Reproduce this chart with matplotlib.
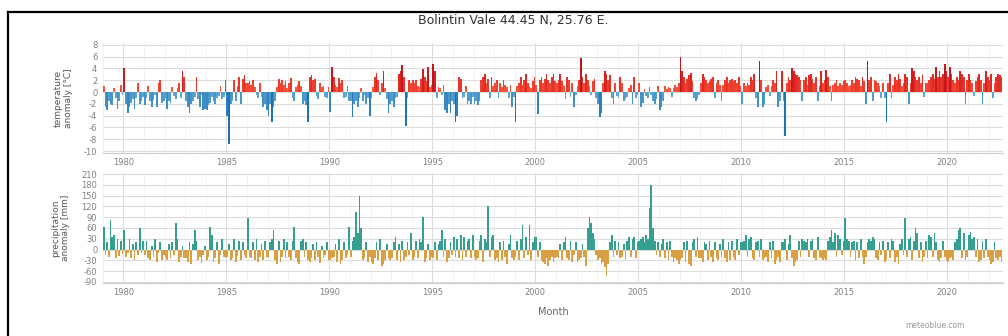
import numpy as np
import matplotlib
matplotlib.use("Agg")
import matplotlib.pyplot as plt
from matplotlib.lines import Line2D

plt.rcParams["font.family"] = ["DejaVu Sans"]
plt.rcParams["axes.unicode_minus"] = False

TITLE = "Bolintin Vale 44.45 N, 25.76 E."
START_YEAR = 1979

# monthly temperature anomaly [°C], one row per year (1979 .. 2022, last year to Aug)
temp_rows = [
    [1.0, -2.5, -3.0, -1.5, -2.0, -2.2, 0.6, -1.0, -2.8, -1.5, 1.2, -0.5],      # 1979
    [4.0, -2.0, -3.5, -2.5, -1.8, -1.2, -2.8, -1.0, 1.5, -2.0, -1.5, -0.8],     # 1980
    [-2.2, -1.0, 1.0, -1.5, -2.6, -1.3, -0.5, -2.5, 1.6, 2.0, -1.8, -1.5],
    [-1.0, -2.8, -1.5, -1.8, 0.8, -0.7, -1.2, 0.6, 1.5, -1.0, 3.6, 2.5],
    [-1.5, -2.5, -3.5, -2.0, -1.5, -0.8, 2.5, -1.2, -2.5, -0.5, -3.0, -2.8],
    [-3.0, -2.2, -1.8, -0.8, -1.5, -2.0, -1.0, -0.6, 1.0, -1.2, -0.8, 2.0],
    [-4.0, -8.8, -2.0, -1.5, 2.0, -1.5, 1.0, 2.5, -2.0, 2.2, 2.8, 1.5],         # 1985
    [1.5, 1.8, 1.2, 2.0, 0.8, -0.5, -1.0, 1.5, -0.8, -2.5, -2.0, -3.0],
    [-4.0, -2.0, -5.0, -2.5, -1.5, 0.8, 2.2, 1.5, 2.0, 1.2, 1.8, 0.6],
    [1.5, 2.3, -1.0, -1.5, 0.8, 1.2, 1.8, 1.0, -2.0, -1.5, -2.2, -5.0],
    [2.5, 2.8, 2.0, 2.2, -0.6, -1.2, 1.5, 0.8, 1.0, -0.8, -1.0, 0.8],
    [-3.4, 4.3, 2.5, 1.2, 0.8, 2.3, 1.5, 2.0, -1.0, -0.8, 1.0, -1.5],          # 1990
    [-1.5, -4.3, -2.0, -1.5, -2.5, -1.0, 0.6, -1.5, -0.5, -2.0, -1.0, -4.0],
    [-1.0, 0.8, 2.5, 3.2, 2.0, -0.5, 1.5, 3.5, 0.6, -1.2, -3.5, -2.0],
    [-1.5, -2.5, -1.0, -0.8, 3.0, 3.6, 4.5, 2.5, -5.7, -1.0, 2.0, 1.5],
    [2.0, 1.5, 2.0, 1.0, 0.8, 2.2, 3.9, 2.5, 1.8, 4.2, 0.8, 1.2],
    [4.7, 3.5, -1.0, 0.8, 0.6, -0.5, 1.2, -3.0, -3.5, -2.0, -3.5, -1.5],        # 1995
    [-2.0, -5.0, -4.0, 2.5, 2.2, -1.0, -0.8, 1.0, -2.0, -1.5, -2.0, -0.8],
    [-2.0, -1.5, -2.2, -1.5, 2.0, 2.5, 3.0, 1.5, 2.2, -1.0, 2.5, 1.0],
    [1.5, 2.0, -1.0, 1.5, 0.8, 2.0, 1.2, 0.8, -1.0, 1.2, -2.5, -0.8],
    [-5.0, 1.0, 1.5, 2.5, 1.2, 2.0, 3.0, 1.5, 1.0, 0.6, 1.8, 2.5],
    [1.2, -3.8, 2.0, 2.5, 1.5, 2.2, 3.0, 2.0, 1.5, 2.5, 3.0, 1.8],             # 2000
    [1.5, 2.0, 3.0, 1.8, 1.0, -1.2, 2.5, 2.0, -0.8, 1.5, -2.5, -0.5],
    [1.0, 2.0, 5.7, 2.5, 1.5, 3.0, 2.0, 1.0, -0.5, 1.8, 2.2, -1.0],
    [-2.0, -4.3, -3.5, 1.5, 3.6, 3.0, 2.0, 2.8, -1.0, -2.0, 1.5, -0.6],
    [-1.0, 2.5, 1.5, -1.5, -1.2, -0.8, 0.6, 1.2, -2.0, 2.5, -1.0, -0.5],
    [1.5, -2.5, -1.8, 0.5, -0.6, -1.0, 0.8, -0.5, -1.5, -2.0, -1.2, 1.0],       # 2005
    [-3.0, -2.5, -1.5, 1.0, 0.5, 0.8, 0.6, -0.8, 0.6, 1.2, 0.8, 1.5],
    [6.0, 3.5, 2.5, 1.5, 2.2, 2.8, 3.2, 1.8, -1.0, -1.5, -1.2, -0.5],
    [1.5, 3.1, 2.5, 2.0, 1.5, 1.8, 2.2, 2.5, -1.0, 1.5, 2.0, 1.2],
    [-1.5, 1.2, 2.0, 2.5, 1.5, 2.0, 2.2, 1.8, 2.0, 1.5, 2.5, 1.0],
    [-2.0, 1.5, 1.0, 1.5, 1.2, 2.5, 2.0, 3.0, -1.0, -2.5, 5.2, 2.0],           # 2010
    [-2.5, -2.0, 0.8, 1.2, -0.6, 1.0, 2.0, 1.5, 3.5, -2.5, -1.5, 3.5],
    [-1.5, -7.5, 1.5, 2.5, 2.0, 4.0, 3.5, 3.0, 2.8, 2.5, 2.0, -1.5],
    [2.0, 2.5, 1.2, 2.8, 3.0, 2.2, 1.5, 2.5, -1.5, 1.0, 3.5, 1.5],
    [2.0, 3.8, 2.5, 1.0, -1.5, 1.2, 1.5, 2.0, 1.0, 1.5, 1.2, 1.8],
    [2.0, 1.5, 1.0, 1.2, 2.0, 1.5, 2.5, 2.2, 2.0, 1.0, 2.5, 1.8],              # 2015
    [-2.0, 5.2, 2.0, 2.5, -1.5, 2.0, 1.8, 1.5, 1.0, -1.0, 1.5, -1.0],
    [-5.0, 1.5, 3.0, -1.0, 1.2, 2.5, 2.0, 3.0, 2.2, 1.0, 1.5, 3.0],
    [2.5, -2.0, 1.5, 4.0, 3.5, 2.5, 2.0, 2.5, 1.5, 2.8, -0.8, 1.5],
    [1.5, 2.0, 2.5, 3.0, 2.2, 4.2, 2.5, 3.5, 2.5, 3.0, 4.7, 3.5],
    [2.5, 4.2, 3.0, 2.0, 1.5, 2.5, 2.0, 3.5, 3.0, 2.5, -2.0, 2.0],             # 2020
    [3.0, 2.0, 1.5, -0.6, 1.8, 2.5, 3.0, 2.0, -2.0, 1.5, 3.5, 2.5],
    [2.0, 3.0, -1.0, 1.5, 2.5, 3.0, 2.8, 2.5],
]

# monthly precipitation anomaly [mm]
prec_rows = [
    [63, -15, 20, -20, 82, 35, 40, -25, 30, -18, 25, -12],      # 1979
    [55, -20, -10, 30, -25, 15, -30, 20, -15, 60, -10, 25],     # 1980
    [-15, 25, -25, -30, 10, -20, 30, -35, -10, 20, -28, -15],
    [-20, -30, 15, -25, 20, -15, 73, 30, -35, -20, 10, -25],
    [-25, -35, 20, -40, 15, 55, 25, -30, -20, -38, -15, 10],
    [-30, -20, 63, 40, -35, -25, 20, -40, -15, 30, -20, -25],
    [-20, 15, -30, -25, 30, -35, -18, 25, -30, 20, -15, -25],   # 1985
    [87, -20, -25, 20, -30, 30, -35, -20, 15, -30, 25, -20],
    [-25, 20, 30, 55, -30, -40, 25, -35, -20, 30, -25, 20],
    [-20, -30, 25, 63, -25, -35, -40, 25, 30, -20, 20, -30],
    [-35, -25, 15, -30, 20, -20, -38, 10, -25, -15, 20, -30],
    [-30, -25, -20, 15, -35, 30, -40, -30, 20, -25, -15, 63],   # 1990
    [-20, 25, 35, 104, 45, 150, 60, -30, -25, 20, -35, -20],
    [-35, -40, -25, 20, -30, 30, -45, -40, -30, 15, -25, -30],
    [-25, 20, 35, -30, 15, -35, 25, -30, -20, 20, -15, 45],
    [-30, -20, 25, -25, 30, 20, 90, -35, -25, 15, -30, -20],
    [-25, 20, -30, 15, 25, 55, -20, 30, -35, -25, 20, -15],     # 1995
    [35, -20, 30, -25, 40, -30, 35, -20, 25, 30, -25, 40],
    [-20, -30, -25, 25, 40, -35, 30, 20, 122, -20, 35, 40],
    [-30, -25, -35, 20, -30, 25, -20, -40, 15, 40, -25, -30],
    [-20, 25, -30, 30, 68, -25, 35, -15, 68, -30, 20, 35],
    [35, -20, 20, -30, -35, -40, -25, -45, -30, -20, -35, -25], # 2000
    [-20, -25, 15, -30, 20, 35, -25, -30, 25, -35, -15, 20],
    [-35, -30, -25, 15, -20, -45, 60, 90, 75, 45, 30, -15],
    [-30, -25, -40, -35, -50, -73, -40, 20, 40, -20, 25, -15],
    [20, -25, -20, 15, -30, 25, 35, -20, 30, 35, -25, 20],
    [25, 30, 35, 20, 40, 30, 115, 180, 60, 25, -15, 20],        # 2005
    [-20, 15, 30, -25, 20, -30, 25, -20, -35, -25, -30, -40],
    [-30, -25, 20, -35, 25, -40, -45, 20, 30, -20, 35, -25],
    [-25, -35, 20, 15, -30, 25, -20, -35, 20, -25, -30, 15],
    [-20, 30, -25, -35, 20, -30, 25, -20, -30, 30, -15, 20],
    [20, 25, 40, -20, 30, 35, -25, -30, 20, 25, -20, 30],       # 2010
    [-30, -25, -20, -35, 20, -25, 25, -40, -30, -20, -35, 20],
    [20, 30, -30, 15, 40, -25, -45, -35, -30, 25, -20, 30],
    [25, 20, 30, -20, 25, 30, -25, -30, 35, -20, -25, -30],
    [-25, -30, 25, 35, 55, 20, 45, -20, 40, 30, -15, 25],
    [87, 30, 25, -20, 20, 25, -30, 20, -25, 30, -20, -40],      # 2015
    [-20, 20, 30, 25, 35, 30, -25, -30, 20, -15, 25, -35],
    [-30, 20, -25, 30, 25, -35, -20, -40, 15, 30, -15, 87],
    [-20, 30, 35, -30, 25, 60, 45, -25, 20, -35, -20, 25],
    [-25, 40, 35, -20, 45, 20, -30, -35, -25, 25, -20, -30],
    [-35, -25, -20, -30, 20, 30, 55, 60, -25, 45, -30, -20],    # 2020
    [40, 50, 30, 35, -20, 30, -35, -30, 25, -25, 30, -20],
    [-30, -40, -35, 20, -25, -30, -20, -35],
]

temp_ticks = [8, 6, 4, 2, 0, -2, -4, -6, -8, -10]
prec_ticks = [210, 180, 150, 120, 90, 60, 30, 0, -30, -60, -90]
year_ticks = [1980, 1985, 1990, 1995, 2000, 2005, 2010, 2015, 2020]


def monthly(rows):
    vals = np.array([v for r in rows for v in r], dtype=float)
    t = START_YEAR + np.arange(len(vals)) / 12.0
    return t, vals


def style_axis(ax, ticks, ylim):
    ax.set_ylim(*ylim)
    ax.set_yticks(ticks)
    ax.set_yticklabels([str(v) for v in ticks])
    ax.set_xlim(START_YEAR + 0.02, 2022.7)
    ax.set_xticks(year_ticks)
    ax.set_xticklabels([str(y) for y in year_ticks])
    ax.set_xticks(np.arange(1979, 2023), minor=True)
    ax.grid(True, which="major", color="#dddddd", linewidth=0.8)
    ax.grid(True, which="minor", axis="x", color="#f1f1f1", linewidth=0.6)
    ax.set_axisbelow(True)
    for s in ("top", "right", "left"):
        ax.spines[s].set_visible(False)
    ax.spines["bottom"].set_color("#cccccc")
    ax.tick_params(axis="both", which="both", length=0, labelsize=6, colors="#808080", pad=4)


fig = plt.figure(figsize=(10.08, 3.36), dpi=100)
ax_t = fig.add_axes([0.102, 0.545, 0.893, 0.327])
ax_p = fig.add_axes([0.102, 0.158, 0.893, 0.327])

# temperature: red above zero, blue below, darker for larger anomalies
t, temp = monthly(temp_rows)
tc = [plt.cm.Reds(0.5 + 0.3 * min(abs(v) / 5, 1)) if v >= 0
      else plt.cm.Blues(0.5 + 0.25 * min(abs(v) / 5, 1)) for v in temp]
ax_t.bar(t, temp, width=1 / 12, align="edge", color=tc, linewidth=0)
style_axis(ax_t, temp_ticks, (-10.3, 8.3))
ax_t.set_ylabel("temperature\nanomaly [°C]", fontsize=6.5, color="#555555", labelpad=8)

# precipitation: teal above zero, ochre below
t2, prec = monthly(prec_rows)
pc = ["#35a090" if v >= 0 else "#d8a043" for v in prec]
ax_p.bar(t2, prec, width=1 / 12, align="edge", color=pc, linewidth=0)
style_axis(ax_p, prec_ticks, (-93, 213))
ax_p.set_ylabel("precipitation\nanomaly [mm]", fontsize=6.5, color="#555555", labelpad=8)
ax_p.set_xlabel("Month", fontsize=7, color="#666666", labelpad=7)

fig.text(0.509, 0.94, TITLE, ha="center", va="center", fontsize=9, color="#333333")
fig.text(0.928, 0.032, "meteoblue.com", ha="center", va="center", fontsize=5.5, color="#999999")

# screenshot frame (black left/top edge)
fig.add_artist(Line2D([8 / 1008, 8 / 1008], [0, 1 - 12 / 336], transform=fig.transFigure,
                      color="black", linewidth=1.6))
fig.add_artist(Line2D([8 / 1008, 1], [1 - 12 / 336, 1 - 12 / 336], transform=fig.transFigure,
                      color="black", linewidth=1.6))

fig.savefig("out.png", dpi=100)
